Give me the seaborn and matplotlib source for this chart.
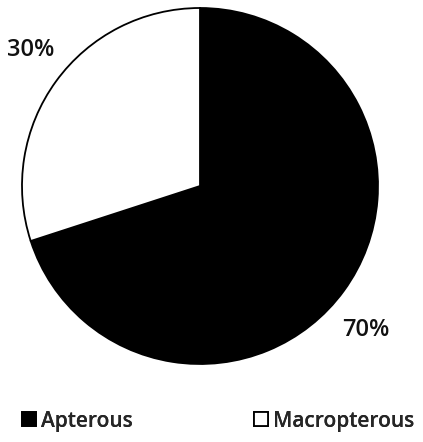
import matplotlib
matplotlib.use("Agg")
import matplotlib.pyplot as plt
import seaborn as sns
from matplotlib.patches import Patch

categories = ["Apterous", "Macropterous"]
values = [70, 30]
pct_labels = ["70%", "30%"]
colors = ["black", "white"]

sns.set_theme(style="white")
plt.rcParams['font.family'] = ['Open Sans', 'DejaVu Sans']

fig = plt.figure(figsize=(4.23, 4.42), dpi=100)
W, H = 423, 442
cx, cy, r = 200, 186, 178
ax = fig.add_axes([(cx - r) / W, (H - (cy + r)) / H, 2 * r / W, 2 * r / H])
ax.pie(values, colors=colors, startangle=90, counterclock=False,
       wedgeprops=dict(edgecolor="black", linewidth=1.3))
ax.set_xlim(-1, 1)
ax.set_ylim(-1, 1)
ax.set_aspect("equal")
ax.axis("off")

# percentage labels
label_pos = {"70%": (366, 330), "30%": (31, 50)}
for lab in pct_labels:
    px, py = label_pos[lab]
    ax.text((px - cx) / r, (cy - py) / r, lab, ha="center", va="center",
            fontsize=17, fontweight="semibold", color="#111111")

# legend entries, one per category
legend_x = {"Apterous": 22, "Macropterous": 254}
for cat, col in zip(categories, colors):
    h = Patch(facecolor=col, edgecolor="black", linewidth=1.3)
    leg = fig.legend([h], [cat], loc="center left",
                     bbox_to_anchor=(legend_x[cat] / W, 1 - 421 / H),
                     frameon=False, handlelength=0.68, handleheight=0.68,
                     handletextpad=0.22, borderpad=0, borderaxespad=0,
                     prop=dict(size=15, weight="semibold"))
    fig.add_artist(leg)

fig.savefig("out.png", dpi=100, facecolor="white")
